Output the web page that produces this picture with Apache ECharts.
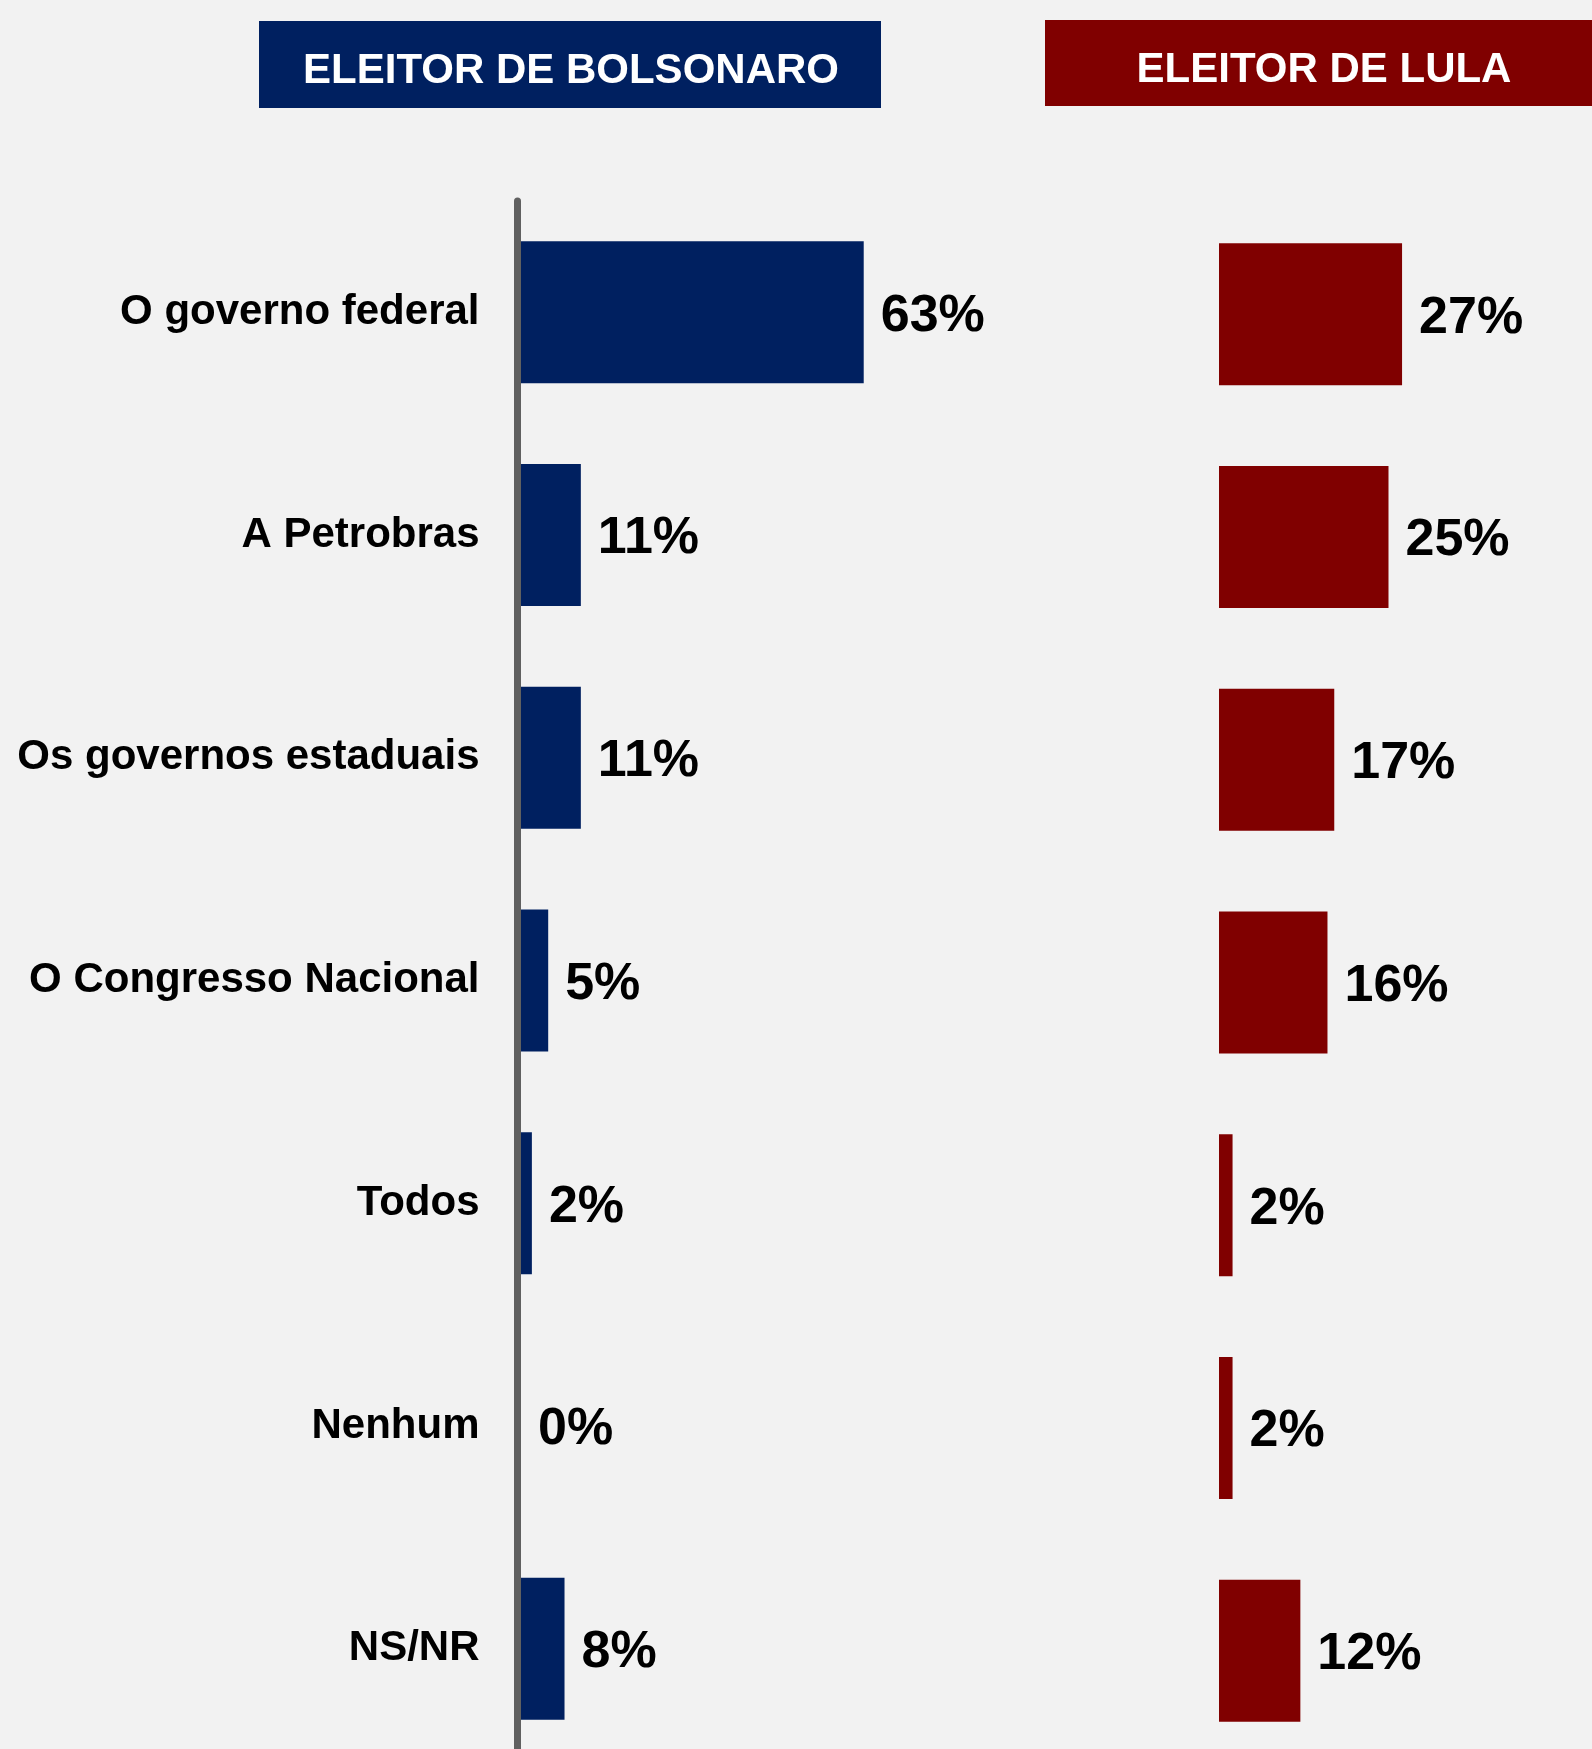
<!DOCTYPE html>
<html>
<head>
<meta charset="utf-8">
<script src="https://cdn.jsdelivr.net/npm/echarts@6/dist/echarts.min.js"></script>
<style>
  html, body { margin: 0; padding: 0; background: #f2f2f2; }
  #chart { width: 1592px; height: 1749px; }
</style>
</head>
<body>
<div id="chart"></div>
<script>
// dados
const categorias = ['O governo federal', 'A Petrobras', 'Os governos estaduais', 'O Congresso Nacional', 'Todos', 'Nenhum', 'NS/NR']
const eleitorBolsonaro = [63, 11, 11, 5, 2, 0, 8]
const eleitorLula = [27, 25, 17, 16, 2, 2, 12]
const titulos = ['ELEITOR DE BOLSONARO', 'ELEITOR DE LULA']

const azul = '#002060'
const vermelho = '#800000'
const fonte = '"Liberation Sans", Arial, sans-serif'

const myChart = echarts.init(document.getElementById('chart'))

let labelPct = {
  show: true,
  position: 'right',
  distance: 17,
  offset: [0, 4],
  formatter: '{c}%',
  color: '#000',
  fontSize: 52,
  fontWeight: 'bold',
  fontFamily: fonte
}

let option = {
  backgroundColor: '#f2f2f2',
  animation: false,
  graphic: [
    { type: 'rect', shape: { x: 259, y: 21, width: 622, height: 87 }, style: { fill: azul } },
    {
      type: 'text', x: 571, y: 71,
      style: { text: titulos[0], fill: '#fff', font: 'bold 42px ' + fonte, align: 'center', verticalAlign: 'middle', textAlign: 'center', textVerticalAlign: 'middle' }
    },
    { type: 'rect', shape: { x: 1045, y: 20, width: 560, height: 86 }, style: { fill: vermelho } },
    {
      type: 'text', x: 1324, y: 70,
      style: { text: titulos[1], fill: '#fff', font: 'bold 42px ' + fonte, align: 'center', verticalAlign: 'middle', textAlign: 'center', textVerticalAlign: 'middle' }
    }
  ],
  grid: [
    { left: 521, top: 201, width: 544, height: 1559, outerBoundsMode: 'none' },
    { left: 1219, top: 203, width: 339, height: 1559, outerBoundsMode: 'none' }
  ],
  xAxis: [
    { gridIndex: 0, type: 'value', min: 0, max: 100, show: false, splitLine: { show: false } },
    { gridIndex: 1, type: 'value', min: 0, max: 50, show: false, splitLine: { show: false } }
  ],
  yAxis: [
    {
      gridIndex: 0,
      type: 'category',
      data: categorias,
      inverse: true,
      offset: 3.5,
      axisLine: { show: true, onZero: false, lineStyle: { color: '#606060', width: 7 } },
      axisTick: { show: false },
      axisLabel: {
        margin: 38,
        padding: [10, 0, 0, 0],
        color: '#000',
        fontSize: 42,
        fontWeight: 'bold',
        fontFamily: fonte
      }
    },
    {
      gridIndex: 1,
      type: 'category',
      data: categorias,
      inverse: true,
      show: false
    }
  ],
  series: [
    {
      type: 'bar',
      xAxisIndex: 0,
      yAxisIndex: 0,
      data: eleitorBolsonaro,
      barWidth: 142,
      itemStyle: { color: azul },
      label: labelPct
    },
    {
      type: 'bar',
      xAxisIndex: 1,
      yAxisIndex: 1,
      data: eleitorLula,
      barWidth: 142,
      itemStyle: { color: vermelho },
      label: labelPct
    }
  ]
}

myChart.setOption(option)
</script>
</body>
</html>
